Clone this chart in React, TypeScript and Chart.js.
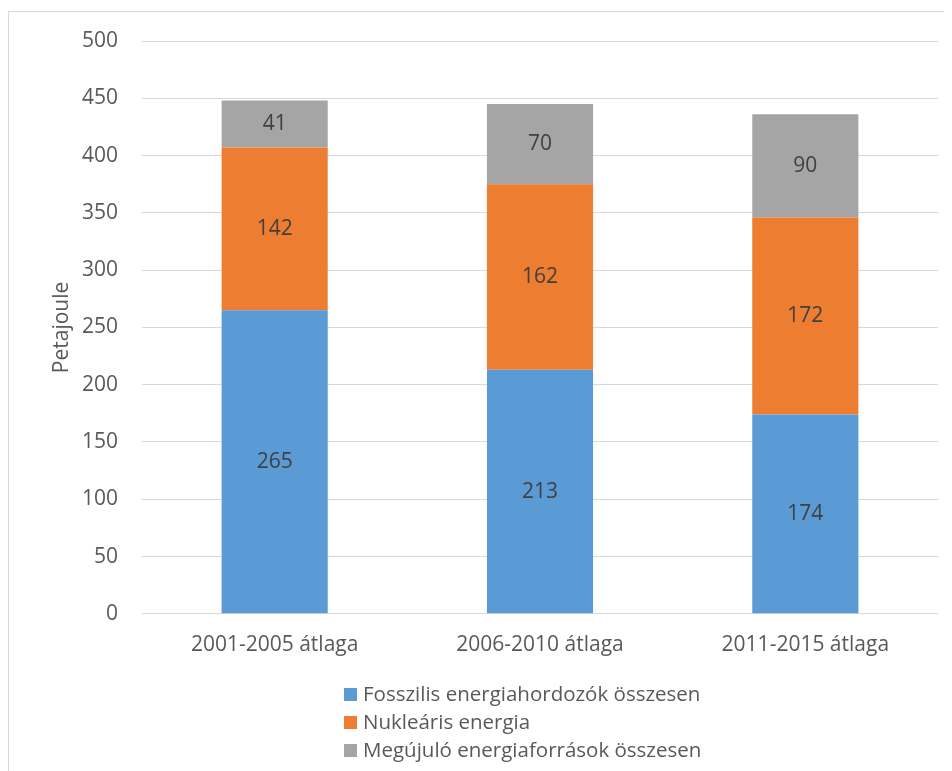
import React, { useEffect, useRef } from "react";
import { Chart, registerables } from "chart.js";

Chart.register(...registerables);

const categories = ["2001-2005 átlaga", "2006-2010 átlaga", "2011-2015 átlaga"];
const fossil = [265, 213, 174];
const nuclear = [142, 162, 172];
const renewable = [41, 70, 90];
const seriesNames = [
  "Fosszilis energiahordozók összesen",
  "Nukleáris energia",
  "Megújuló energiaforrások összesen",
];
const yTicks = [0, 50, 100, 150, 200, 250, 300, 350, 400, 450, 500];
const yTitle = "Petajoule";

const FONT = "'Open Sans', 'Noto Sans', sans-serif";
const FS = 21;

const labelPlugin = {
  id: "barLabels",
  afterDatasetsDraw(chart: any) {
    const ctx = chart.ctx;
    ctx.save();
    ctx.font = `${FS}px ${FONT}`;
    ctx.fillStyle = "#404040";
    ctx.textAlign = "center";
    ctx.textBaseline = "middle";
    chart.data.datasets.forEach((ds: any, i: number) => {
      const meta = chart.getDatasetMeta(i);
      meta.data.forEach((bar: any, j: number) => {
        const y = (bar.y + bar.base) / 2;
        ctx.fillText(String(ds.data[j]), bar.x, y);
      });
    });
    ctx.restore();
  },
};

const legendPlugin = {
  id: "vLegend",
  afterDraw(chart: any) {
    const ctx = chart.ctx;
    ctx.save();
    ctx.font = `20.5px ${FONT}`;
    const texts = chart.data.datasets.map((d: any) => d.label);
    const box = 13;
    const gap = 6;
    const maxW = Math.max(...texts.map((t: string) => ctx.measureText(t).width));
    const blockW = box + gap + maxW;
    const cx = (chart.chartArea.left + chart.chartArea.right) / 2 - 17;
    const x0 = Math.round(cx - blockW / 2);
    const y0 = chart.chartArea.bottom + 81;
    const rowH = 28;
    ctx.textBaseline = "middle";
    ctx.textAlign = "left";
    chart.data.datasets.forEach((d: any, i: number) => {
      const y = y0 + i * rowH;
      ctx.fillStyle = d.backgroundColor;
      ctx.fillRect(x0, Math.round(y - box / 2), box, box);
      ctx.fillStyle = "#595959";
      ctx.fillText(d.label, x0 + box + gap, y);
    });
    ctx.restore();
  },
};

export default function App() {
  const ref = useRef<HTMLCanvasElement>(null);
  useEffect(() => {
    if (!ref.current) return;
    const chart = new Chart(ref.current, {
      type: "bar",
      data: {
        labels: categories,
        datasets: [
          { label: seriesNames[0], data: fossil, backgroundColor: "#5B9BD5" },
          { label: seriesNames[1], data: nuclear, backgroundColor: "#ED7D31" },
          { label: seriesNames[2], data: renewable, backgroundColor: "#A5A5A5" },
        ],
      },
      options: {
        responsive: false,
        animation: false,
        layout: { padding: { top: 0, right: 14, left: 40, bottom: 94 } },
        datasets: {
          bar: { categoryPercentage: 1, barPercentage: 0.4 },
        },
        plugins: {
          legend: { display: false },
          tooltip: { enabled: false },
        },
        scales: {
          x: {
            stacked: true,
            grid: { display: false, drawTicks: false },
            border: { display: false },
            ticks: { color: "#595959", font: { family: FONT, size: FS }, padding: 19 },
          },
          y: {
            stacked: true,
            min: 0,
            max: 500,
            afterBuildTicks(axis: any) {
              axis.ticks = yTicks.map((v) => ({ value: v }));
            },
            afterFit(axis: any) {
              axis.width = 93;
              axis.paddingTop = 29;
            },
            grid: { color: "#d9d9d9", lineWidth: 1, drawTicks: false },
            border: { display: false },
            ticks: { color: "#595959", font: { family: FONT, size: FS }, padding: 24 },
            title: {
              display: true,
              text: yTitle,
              color: "#595959",
              font: { family: FONT, size: FS },
              padding: { top: 0, bottom: 0 },
            },
          },
        },
      },
      plugins: [labelPlugin, legendPlugin],
    });
    return () => chart.destroy();
  }, []);
  return (
    <div
      style={{
        marginTop: 3,
        width: 944,
        height: 760,
        borderLeft: "1px solid #d9d9d9",
        borderTop: "1px solid #d9d9d9",
        boxSizing: "border-box",
        overflow: "hidden",
      }}
    >
      <canvas ref={ref} width={943} height={759} style={{ display: "block" }} />
    </div>
  );
}
